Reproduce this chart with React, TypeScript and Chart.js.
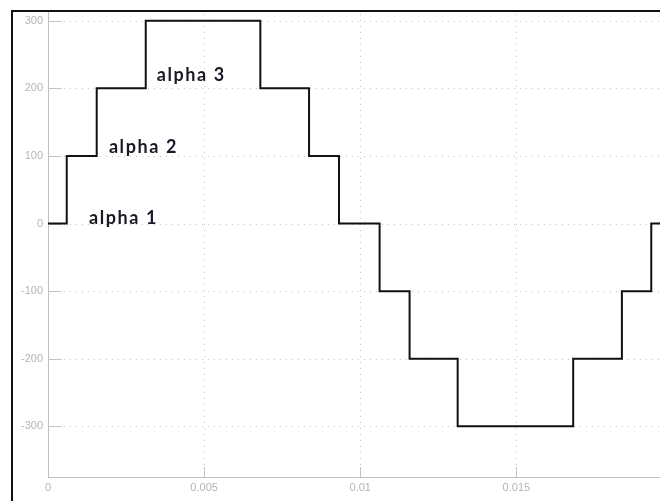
import React, { useEffect, useRef } from "react";
import { Chart, registerables } from "chart.js";

Chart.register(...registerables);

// Switching instants (s) and the staircase voltage level that starts at each instant
const timeBreaks = [0, 0.0006, 0.00156, 0.00313, 0.0068, 0.00836, 0.00932, 0.01062, 0.01158, 0.01312, 0.01682, 0.01838, 0.01932, 0.0196];
const voltage = [0, 100, 200, 300, 200, 100, 0, -100, -200, -300, -200, -100, 0, 0];

const xTicks = [0, 0.005, 0.01, 0.015];
const xTickLabels = ["0", "0.005", "0.01", "0.015"];
const yTicks = [-300, -200, -100, 0, 100, 200, 300];
const yTickLabels = ["-300", "-200", "-100", "0", "100", "200", "300"];

const alphaLabels = ["alpha 1", "alpha 2", "alpha 3"];
const alphaX = [0.00131, 0.00195, 0.00348];
const alphaY = [0, 104, 211];

const gridPlugin = {
  id: "scopeGrid",
  beforeDatasetsDraw(chart: any) {
    const { ctx, chartArea, scales } = chart;
    const { left, right, top, bottom } = chartArea;
    ctx.save();
    ctx.lineWidth = 1;
    ctx.strokeStyle = "#c4c4c4";
    yTicks.forEach((v) => {
      const py = Math.round(scales.y.getPixelForValue(v)) + 0.5;
      ctx.setLineDash([]);
      ctx.beginPath();
      ctx.moveTo(left, py);
      ctx.lineTo(left + 14, py);
      ctx.stroke();
      ctx.setLineDash([1, 5]);
      ctx.beginPath();
      ctx.moveTo(left + 16, py);
      ctx.lineTo(right, py);
      ctx.stroke();
    });
    xTicks.forEach((v) => {
      if (v === 0) return;
      const px = Math.round(scales.x.getPixelForValue(v)) + 0.5;
      ctx.setLineDash([]);
      ctx.beginPath();
      ctx.moveTo(px, bottom);
      ctx.lineTo(px, bottom - 10);
      ctx.stroke();
      ctx.setLineDash([1, 5]);
      ctx.beginPath();
      ctx.moveTo(px, bottom - 12);
      ctx.lineTo(px, top);
      ctx.stroke();
    });
    ctx.restore();
  },
  afterDatasetsDraw(chart: any) {
    const { ctx, scales } = chart;
    ctx.save();
    ctx.fillStyle = "#1a1a26";
    ctx.font = "700 18px Lato";
    try {
      (ctx as any).letterSpacing = "1.6px";
    } catch (e) {}
    ctx.textAlign = "left";
    ctx.textBaseline = "alphabetic";
    alphaLabels.forEach((t, i) => {
      ctx.fillText(t, scales.x.getPixelForValue(alphaX[i]), scales.y.getPixelForValue(alphaY[i]));
    });
    ctx.restore();
  },
};

export default function App() {
  const ref = useRef<HTMLCanvasElement | null>(null);
  useEffect(() => {
    if (!ref.current) return;
    const chart = new Chart(ref.current, {
      type: "line",
      data: {
        datasets: [
          {
            data: timeBreaks.map((t, i) => ({ x: t, y: voltage[i] })),
            stepped: "before",
            borderColor: "#111111",
            borderWidth: 2,
            pointRadius: 0,
            fill: false,
          },
        ],
      },
      options: {
        animation: false,
        responsive: false,
        events: [],
        layout: { padding: { top: 12, right: 0, bottom: 0, left: 0 } },
        plugins: { legend: { display: false }, tooltip: { enabled: false } },
        scales: {
          x: {
            type: "linear",
            min: 0,
            max: 0.0196,
            afterBuildTicks: (s: any) => {
              s.ticks = xTicks.map((v) => ({ value: v }));
            },
            afterFit: (s: any) => {
              s.height = 24;
            },
            grid: { display: false, drawTicks: false, tickLength: 0 },
            border: { display: true, color: "#c0c0c0", width: 1 },
            ticks: {
              padding: 4,
              color: "#b4b4b4",
              font: { family: "'Liberation Sans', Arial, sans-serif", size: 11 },
              maxRotation: 0,
              autoSkip: false,
              callback: (_v: any, i: number) => xTickLabels[i],
            },
          },
          y: {
            type: "linear",
            min: -375,
            max: 313,
            afterBuildTicks: (s: any) => {
              s.ticks = yTicks.map((v) => ({ value: v }));
            },
            afterFit: (s: any) => {
              s.width = 48;
            },
            grid: { display: false, drawTicks: false, tickLength: 0 },
            border: { display: true, color: "#c0c0c0", width: 1 },
            ticks: {
              padding: 5,
              color: "#b4b4b4",
              font: { family: "'Liberation Sans', Arial, sans-serif", size: 11 },
              autoSkip: false,
              callback: (_v: any, i: number) => yTickLabels[i],
            },
          },
        },
      },
      plugins: [gridPlugin],
    } as any);
    return () => chart.destroy();
  }, []);

  return (
    <div
      style={{
        position: "absolute",
        left: 0,
        top: 0,
        width: 660,
        height: 501,
        overflow: "hidden",
        background: "#ffffff",
      }}
    >
      <canvas ref={ref} width={660} height={501} style={{ display: "block" }} />
      <div
        style={{
          position: "absolute",
          left: 11,
          top: 10,
          width: 700,
          height: 600,
          borderTop: "2px solid #111",
          borderLeft: "2px solid #111",
          pointerEvents: "none",
        }}
      />
    </div>
  );
}
